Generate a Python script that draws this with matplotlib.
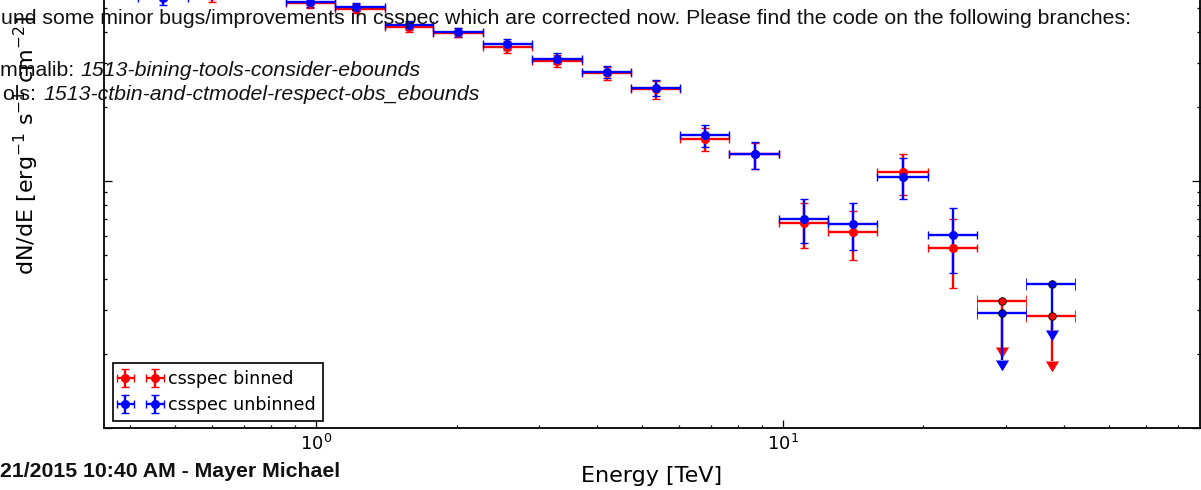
import numpy as np
import matplotlib
matplotlib.use('Agg')
import matplotlib.pyplot as plt

# energy bins [TeV]
energy = [0.470, 0.599, 0.762, 0.971, 1.217, 1.582, 2.016, 2.567, 3.286, 4.205,
          5.356, 6.823, 8.731, 11.07, 14.16, 18.04, 23.09, 29.41, 37.63]
e_min = [0.415, 0.532, 0.677, 0.862, 1.098, 1.406, 1.782, 2.280, 2.904, 3.717,
         4.734, 6.030, 7.679, 9.829, 12.52, 15.94, 20.41, 25.99, 33.10]
e_max = [0.532, 0.677, 0.862, 1.098, 1.406, 1.782, 2.280, 2.904, 3.717, 4.734,
         6.030, 7.679, 9.829, 12.52, 15.94, 20.41, 25.99, 33.10, 42.16]
upper_limit = [False] * 17 + [True, True]

# csspec binned (units of 1e-11 erg^-1 s^-1 cm^-2)
binned_flux = [5.716, 5.933, 6.636, 5.256, 4.970, 4.202, 3.973, 3.487, 3.061, 2.737,
               2.357, 1.479, 1.286, 0.676, 0.622, 1.087, 0.536, 0.327, 0.284]
binned_lo = [5.405, 5.305, 6.218, 5.017, 4.788, 4.011, 3.828, 3.297, 2.894, 2.564,
             2.148, 1.323, 1.118, 0.536, 0.479, 0.878, 0.369, 0.213, 0.187]
binned_hi = [6.045, 6.636, 7.082, 5.507, 5.207, 4.403, 4.163, 3.688, 3.236, 2.894,
             2.541, 1.639, 1.425, 0.815, 0.756, 1.286, 0.702, 0.327, 0.284]

# csspec unbinned
unbinned_flux = [5.507, 5.877, 6.513, 5.305, 5.064, 4.281, 4.011, 3.586, 3.118, 2.763,
                 2.379, 1.536, 1.286, 0.702, 0.670, 1.038, 0.605, 0.292, 0.383]
unbinned_lo = [5.159, 5.456, 6.158, 5.064, 4.878, 4.086, 3.828, 3.391, 2.976, 2.612,
               2.209, 1.373, 1.118, 0.561, 0.526, 0.846, 0.424, 0.189, 0.249]
unbinned_hi = [5.824, 6.277, 6.887, 5.558, 5.256, 4.444, 4.163, 3.757, 3.297, 2.921,
               2.564, 1.686, 1.439, 0.846, 0.815, 1.239, 0.777, 0.292, 0.383]


def plot_spectrum(ax, flux, lo, hi, color, label):
    e = np.array(energy)
    xlo = e - np.array(e_min)
    xhi = np.array(e_max) - e
    f = np.array(flux) * 1e-11
    flo = f - np.array(lo) * 1e-11
    fhi = np.array(hi) * 1e-11 - f
    ul = np.array(upper_limit)
    ok = ~ul
    ax.errorbar(e[ok], f[ok], xerr=[xlo[ok], xhi[ok]], yerr=[flo[ok], fhi[ok]],
                fmt='o', color=color, mec=color, ms=5.5, elinewidth=1.7,
                capsize=2.6, capthick=1, label=label)
    # upper limits
    ax.errorbar(e[ul], f[ul], xerr=[xlo[ul], xhi[ul]], yerr=[flo[ul], np.zeros(ul.sum())],
                uplims=True, fmt='o', color=color, mec='k', mew=0.6, ms=5.5,
                elinewidth=1.7, capsize=4.6, capthick=1)


W, H = 1201, 490
fig = plt.figure(figsize=(W / 100, H / 100), dpi=100)
ax_left, ax_right, ax_bottom, ax_top = 104, 1200, 428, -200
ax = fig.add_axes([ax_left / W, (H - ax_bottom) / H,
                   (ax_right - ax_left) / W, (ax_bottom - ax_top) / H])

plot_spectrum(ax, binned_flux, binned_lo, binned_hi, '#ff0000', 'csspec binned')
plot_spectrum(ax, unbinned_flux, unbinned_lo, unbinned_hi, '#0000ff', 'csspec unbinned')

ax.set_xscale('log')
ax.set_yscale('log')
ax.set_xlim(0.3516, 78.2)
ax.set_ylim(1e-12, 10 ** (-12 + (ax_bottom - ax_top) / 247.0))

ax.tick_params(which='both', direction='in', top=True, right=True, width=0.9)
ax.tick_params(which='major', length=6, labelsize=13, pad=4.5)
ax.tick_params(which='minor', length=2.2)
ax.tick_params(axis='y', labelleft=False)
for sp in ax.spines.values():
    sp.set_linewidth(1.3)

ax.set_xlabel('Energy [TeV]', fontsize=16, labelpad=8.5)
ax.set_ylabel(r'dN/dE [erg$^{-1}$ s$^{-1}$ cm$^{-2}$]', fontsize=16, loc='bottom')
ax.yaxis.set_label_coords((41 - ax_left) / (ax_right - ax_left),
                          (ax_bottom - 275) / (ax_bottom - ax_top))

leg = ax.legend(loc='lower left', numpoints=2, fontsize=12.6, fancybox=False,
                framealpha=1, edgecolor='k', handlelength=2.3, handletextpad=0.45,
                borderpad=0.4, labelspacing=0.45, borderaxespad=0,
                bbox_to_anchor=((113 - ax_left) / (ax_right - ax_left),
                                (ax_bottom - 421) / (ax_bottom - ax_top)))
leg.get_frame().set_linewidth(1.2)

# page text lying over the plot
web = dict(family='Liberation Sans', fontsize=15.3, color='#111111', va='baseline', zorder=10)
fig.text(1 / W, 1 - 23.5 / H, 'und some minor bugs/improvements in csspec which are corrected now. '
         'Please find the code on the following branches:', **web)
fig.text(0 / W, 1 - 76 / H, 'mmalib: ', **web)
fig.text(80 / W, 1 - 76 / H, '1513-bining-tools-consider-ebounds', style='italic', **web)
fig.text(3 / W, 1 - 100 / H, 'ols: ', **web)
fig.text(43 / W, 1 - 100 / H, '1513-ctbin-and-ctmodel-respect-obs_ebounds', style='italic', **web)
fig.text(0 / W, 1 - 477 / H, '21/2015 10:40 AM - Mayer Michael', weight='bold', **web)

fig.savefig('out.png', dpi=100)
